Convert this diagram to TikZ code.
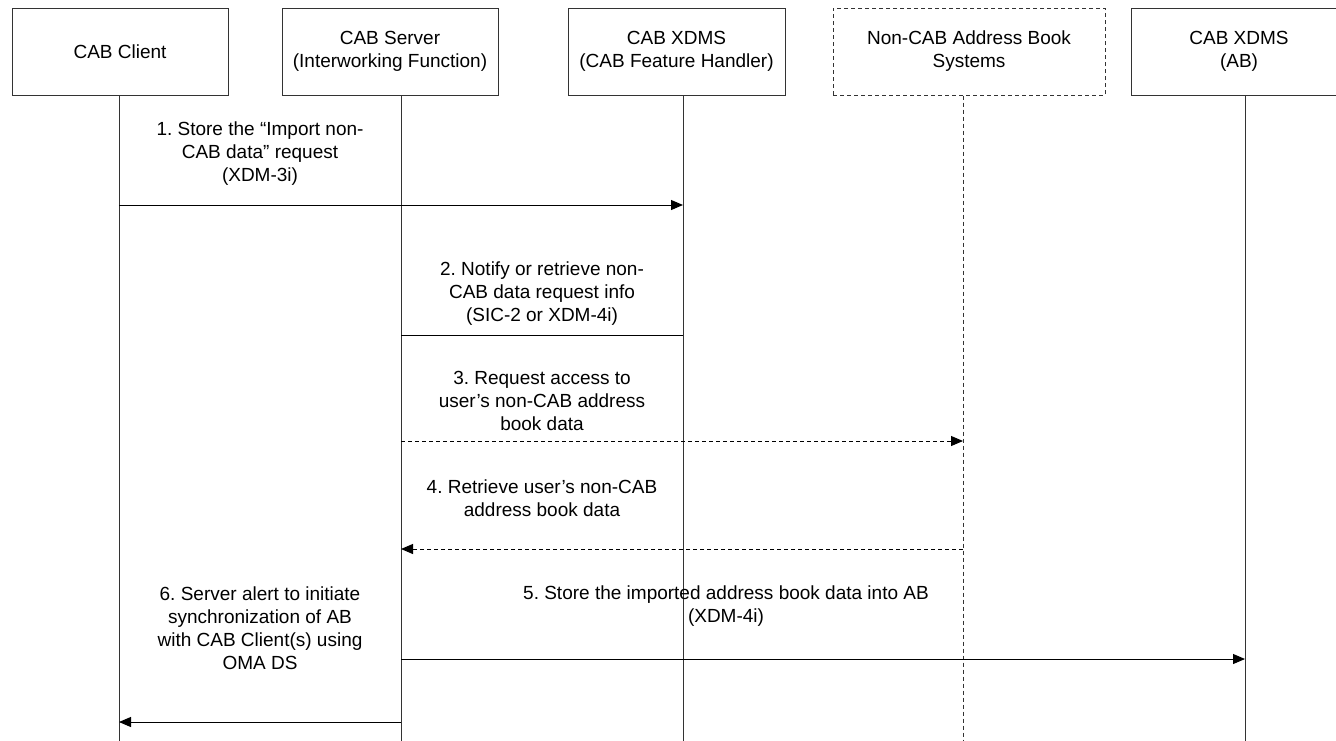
\documentclass[tikz,border=0pt]{standalone}
\usepackage{fontspec}
\setmainfont{Liberation Sans}
\usetikzlibrary{arrows.meta}
\begin{document}
\frenchspacing
\begin{tikzpicture}[x=1pt,y=-1pt,
  box/.style={draw=black!80, line width=1pt, minimum height=87pt, align=center, inner sep=0pt, font=\fontsize{19}{23}\selectfont},
  life/.style={draw=black!80, line width=1pt},
  msg/.style={draw=black, line width=1pt, -{Triangle[length=12pt,width=10pt]}},
  plainmsg/.style={draw=black, line width=1pt},
  lbl/.style={align=center, font=\fontsize{19}{23}\selectfont, inner sep=0pt},
  dsh/.style={dash pattern=on 4pt off 3pt}
]
\useasboundingbox (0,0) rectangle (1336,740);
\clip (0,0) rectangle (1336,740);
\fill[white] (0,0) rectangle (1336,740);

% participant boxes
\node[box, minimum width=216pt] (client) at (120,51.5) {CAB Client};
\node[box, minimum width=216pt] (server) at (390,51.5) {CAB Server\\(Interworking Function)};
\node[box, minimum width=217pt] (fh) at (676.5,51.5) {CAB XDMS\\(CAB Feature Handler)};
\node[box, dsh, minimum width=272pt] (ncab) at (969,51.5) {Non-CAB Address Book\\Systems};
\node[box, minimum width=216pt] (ab) at (1239,51.5) {CAB XDMS\\(AB)};

% lifeline ends
\coordinate (cb) at (119,745);
\coordinate (sb) at (401,745);
\coordinate (fb) at (683,745);
\coordinate (nb) at (963,745);
\coordinate (ab2) at (1245,745);

\draw[life] (client.south -| cb) -- (cb);
\draw[life] (server.south -| sb) -- (sb);
\draw[life] (fh.south -| fb) -- (fb);
\draw[life, dsh] (ncab.south -| nb) -- (nb);
\draw[life] (ab.south -| ab2) -- (ab2);

% message anchor points
\coordinate (m1a) at (119,205);
\coordinate (m1b) at (683,205);
\coordinate (m2a) at (401,335);
\coordinate (m2b) at (683,335);
\coordinate (m3a) at (401,441);
\coordinate (m3b) at (963,441);
\coordinate (m4a) at (963,549);
\coordinate (m4b) at (401,549);
\coordinate (m5a) at (401,659);
\coordinate (m5b) at (1245,659);
\coordinate (m6a) at (401,722);
\coordinate (m6b) at (119,722);

% messages
\draw[msg] (m1a) -- (m1b);
\draw[plainmsg] (m2a) -- (m2b);
\draw[msg, dsh] (m3a) -- (m3b);
\draw[msg, dsh] (m4a) -- (m4b);
\draw[msg] (m5a) -- (m5b);
\draw[msg] (m6a) -- (m6b);

% labels
\node[lbl] (t1) at (260,154) {1. Store the “Import non-\\CAB data” request\\(XDM-3i)};
\node[lbl] (t2) at (542,294) {2. Notify or retrieve non-\\CAB data request info\\(SIC-2 or XDM-4i)};
\node[lbl] (t3) at (542,401) {3. Request access to\\user’s non-CAB address\\book data};
\node[lbl] (t4) at (542,498) {4. Retrieve user’s non-CAB\\address book data};
\node[lbl] (t5) at (726,606) {5. Store the imported address book data into AB\\(XDM-4i)};
\node[lbl] (t6) at (260,628) {6. Server alert to initiate\\synchronization of AB\\with CAB Client(s) using\\OMA DS};
\end{tikzpicture}
\end{document}
